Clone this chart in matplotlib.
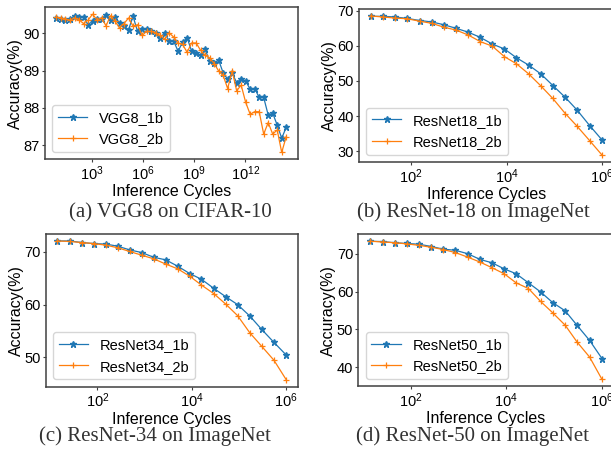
import numpy as np
import matplotlib
matplotlib.use('Agg')
import matplotlib.pyplot as plt
from matplotlib.ticker import NullLocator

plt.rcParams['font.family'] = ['Liberation Sans', 'DejaVu Sans']
plt.rcParams['axes.edgecolor'] = '0.25'
plt.rcParams['axes.linewidth'] = 1.1

# VGG8 sweep: evenly spaced in log10 of inference cycles
vgg_x = 10 ** np.linspace(0.9, 14.41, 52)
vgg_1b = [90.41, 90.38, 90.36, 90.38, 90.47, 90.43, 90.43, 90.23, 90.32, 90.38,
          90.38, 90.50, 90.36, 90.43, 90.28, 90.19, 90.10, 90.45, 90.05, 90.12,
          90.12, 90.05, 90.01, 89.88, 90.01, 89.79, 89.79, 89.52, 89.76, 89.88,
          89.52, 89.46, 89.41, 89.57, 89.25, 89.21, 89.28, 88.94, 88.77, 88.93,
          88.68, 88.78, 88.72, 88.50, 88.52, 88.28, 88.28, 87.81, 87.86, 87.54,
          87.19, 87.48]
vgg_2b = [90.43, 90.41, 90.38, 90.35, 90.41, 90.36, 90.26, 90.35, 90.51, 90.36,
          90.41, 90.20, 90.47, 90.32, 90.14, 90.26, 90.41, 90.19, 90.23, 89.94,
          90.05, 90.05, 90.01, 89.94, 89.85, 90.01, 89.90, 89.74, 89.70, 89.49,
          89.74, 89.74, 89.54, 89.41, 89.34, 89.19, 88.99, 88.87, 88.52, 88.99,
          88.46, 88.61, 88.15, 87.83, 87.90, 87.90, 87.30, 87.61, 87.30, 87.41,
          86.81, 87.23]

res_x = [14, 26, 46, 83, 150, 270, 480, 860, 1550, 2800, 5000, 9000, 16000,
         29000, 52000, 93000, 170000, 300000, 550000, 1000000]
r18_1b = [68.4, 68.4, 68.2, 67.8, 67.2, 66.8, 66.0, 65.0, 63.9, 62.4,
          60.5, 59.1, 56.6, 54.5, 52.0, 48.7, 45.3, 41.7, 37.3, 33.2]
r18_2b = [68.5, 68.2, 67.9, 67.7, 67.0, 66.4, 65.3, 64.5, 63.1, 61.2,
          59.9, 56.9, 54.9, 52.0, 48.6, 45.0, 40.7, 37.1, 33.0, 28.9]
r34_1b = [72.1, 72.1, 71.8, 71.6, 71.5, 71.1, 70.4, 69.9, 69.0, 68.5,
          67.3, 65.9, 64.8, 63.1, 61.5, 60.0, 57.8, 55.3, 52.8, 50.4]
r34_2b = [72.1, 72.0, 71.8, 71.6, 71.3, 70.8, 70.1, 69.4, 68.7, 67.7,
          66.8, 65.4, 63.7, 62.1, 60.1, 57.9, 54.6, 52.1, 49.4, 45.7]
r50_1b = [73.3, 73.2, 72.9, 72.7, 72.5, 71.9, 71.2, 70.9, 70.0, 68.5,
          67.6, 66.0, 64.7, 62.3, 59.9, 57.1, 54.9, 51.1, 47.1, 42.3]
r50_2b = [73.3, 73.1, 72.9, 72.6, 72.2, 71.7, 71.1, 70.3, 69.1, 67.8,
          66.3, 64.7, 62.3, 60.8, 57.4, 54.4, 51.1, 46.7, 42.7, 36.8]

W, H = 611, 453
fig = plt.figure(figsize=(W / 100, H / 100), dpi=100)


def make_ax(l, t, r, b):
    return fig.add_axes([l / W, 1 - b / H, (r - l) / W, (b - t) / H])


panels = [
    (make_ax(45, 7.3, 297.7, 159.3), vgg_x, vgg_1b, vgg_2b, 'VGG8',
     [1e3, 1e6, 1e9, 1e12], [87, 88, 89, 90]),
    (make_ax(359, 9, 613.6, 162), res_x, r18_1b, r18_2b, 'ResNet18',
     [1e2, 1e4, 1e6], [30, 40, 50, 60, 70]),
    (make_ax(45.7, 234, 297.7, 386.7), res_x, r34_1b, r34_2b, 'ResNet34',
     [1e2, 1e4, 1e6], [50, 60, 70]),
    (make_ax(358.3, 234.3, 613.6, 386.3), res_x, r50_1b, r50_2b, 'ResNet50',
     [1e2, 1e4, 1e6], [40, 50, 60, 70]),
]

for ax, x, y1, y2, name, xt, yt in panels:
    ax.plot(x, y1, marker='*', ms=5, lw=0.9, color='#1f77b4', label=name + '_1b')
    ax.plot(x, y2, marker='+', ms=5, mew=0.9, lw=0.9, color='#ff7f0e', label=name + '_2b')
    ax.set_xscale('log')
    ax.set_xticks(xt)
    ax.set_yticks(yt)
    ax.xaxis.set_minor_locator(NullLocator())
    ax.tick_params(labelsize=10.5, length=2.5, width=0.8, color='0.25', pad=1.2)
    ax.set_xlabel('Inference Cycles', fontsize=11.5, labelpad=1)
    ax.set_ylabel('Accuracy(%)', fontsize=11.5, labelpad=0.5)
    ax.legend(loc='lower left', fontsize=10.5)

caps = [(170, 217, '(a) VGG8 on CIFAR-10'),
        (473, 217, '(b) ResNet-18 on ImageNet'),
        (155, 441, '(c) ResNet-34 on ImageNet'),
        (472, 441, '(d) ResNet-50 on ImageNet')]
for cx, cy, txt in caps:
    fig.text(cx / W, 1 - cy / H, txt, ha='center', va='baseline',
             fontsize=15, family='Liberation Serif', color='0.2')

fig.savefig('out.png', dpi=100)
